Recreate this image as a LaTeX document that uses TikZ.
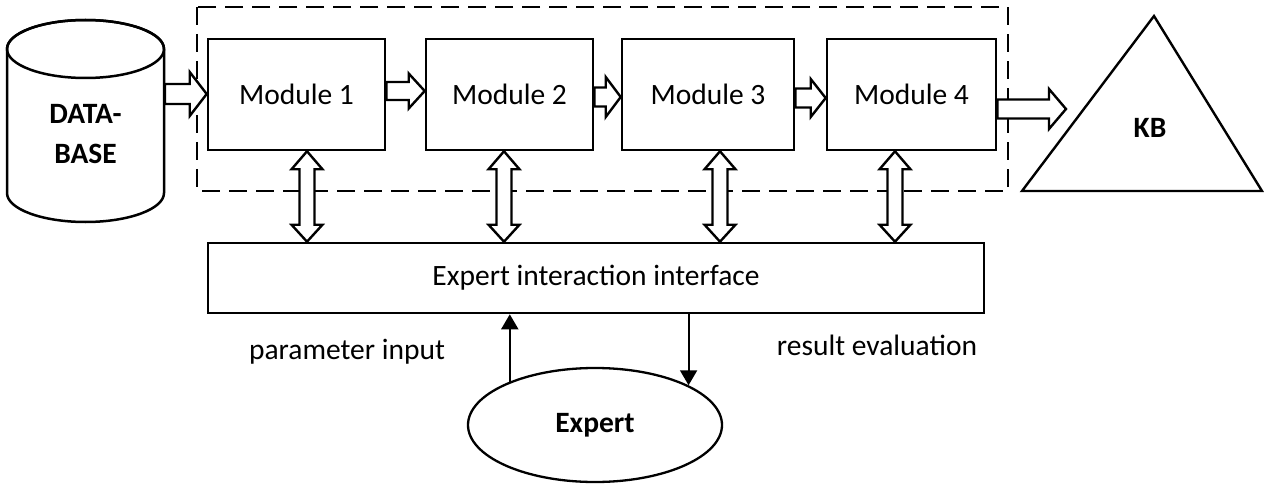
\documentclass[tikz,border=0pt]{standalone}
\usepackage{fontspec}
\setmainfont{Carlito}
\usetikzlibrary{calc,arrows.meta,shapes.geometric}
% horizontal hollow block arrow: #1 y (px, downwards), #2 start, #3 end, #4 shaft half, #5 head half, #6 head length
\newcommand{\hblk}[6]{%
  \draw[blk] let \p1=(#2), \p2=(#3) in
    ({\x1},{-#1pt+#4pt}) -- ({\x2-#6pt},{-#1pt+#4pt}) -- ({\x2-#6pt},{-#1pt+#5pt}) --
    ({\x2},{-#1pt}) -- ({\x2-#6pt},{-#1pt-#5pt}) -- ({\x2-#6pt},{-#1pt-#4pt}) --
    ({\x1},{-#1pt-#4pt}) -- cycle;}
% vertical double hollow block arrow: #1 x (px), #2 top anchor, #3 bottom anchor
\newcommand{\vblk}[3]{%
  \draw[blk] let \p1=(#2), \p2=(#3) in
    ({#1pt},{\y1}) -- ({#1pt+15.5pt},{\y1-18pt}) -- ({#1pt+7.5pt},{\y1-18pt}) --
    ({#1pt+7.5pt},{\y2+17pt}) -- ({#1pt+15.5pt},{\y2+17pt}) -- ({#1pt},{\y2}) --
    ({#1pt-15.5pt},{\y2+17pt}) -- ({#1pt-7.5pt},{\y2+17pt}) -- ({#1pt-7.5pt},{\y1-18pt}) --
    ({#1pt-15.5pt},{\y1-18pt}) -- cycle;}
\begin{document}
\begin{tikzpicture}[x=1pt,y=-1pt,
  txt/.style={font=\fontsize{29.5}{40}\selectfont},
  btxt/.style={font=\fontsize{29.5}{40}\selectfont\bfseries},
  box/.style={draw, line width=2.6pt, minimum height=111pt, inner sep=0pt, fill=white, txt},
  blk/.style={draw, fill=white, line width=2.4pt, line join=miter},
  arr/.style={line width=2pt, -{Triangle[length=15pt,width=17pt]}},
  shp/.style={draw, line width=2.5pt, fill=white}]
\useasboundingbox (0,0) rectangle (1264,484);
% dashed frame
\draw[line width=2.5pt, dash pattern=on 18pt off 9pt] (197,7) rectangle (1008,191);
% database cylinder
\draw[shp] (7,49) -- (7,193) arc[start angle=180,end angle=360,x radius=78.5pt,y radius=29pt]
  -- (164,49) arc[start angle=0,end angle=180,x radius=78.5pt,y radius=29pt] -- cycle;
\draw[line width=2.5pt] (85.5,49) ellipse [x radius=78.5pt, y radius=29pt];
\node[btxt, align=center, inner sep=0pt] (db) at (85.5,134) {DATA-\\BASE};
\coordinate (dbout) at (165,94);
% knowledge base triangle
\draw[shp, line width=2.4pt] (1154,16) -- (1262,191) -- (1022,191) -- cycle;
\node[btxt] (kb) at (1150,128) {KB};
\coordinate (kbin) at (1066,109);
% modules
\node[box, minimum width=177pt] (m1) at (296.5,94.5) {Module 1};
\node[box, minimum width=167pt] (m2) at (509.5,94.5) {Module 2};
\node[box, minimum width=172pt] (m3) at (708,94.5) {Module 3};
\node[box, minimum width=169pt] (m4) at (911.5,94.5) {Module 4};
% interface
\node[box, minimum width=776pt, minimum height=70pt] (ifc) at (596,278) {Expert interaction interface};
% expert
\node[draw, ellipse, line width=2.3pt, minimum width=254pt, minimum height=114pt, inner sep=0pt, btxt] (ex) at (595,425) {Expert};
% horizontal block arrows
\hblk{94}{dbout}{m1.west}{10}{22}{17}
\hblk{91}{m1.east}{m2.west}{9}{17.5}{16}
\hblk{97}{m2.east}{m3.west}{9.5}{20}{15}
\hblk{98}{m3.east}{m4.west}{9.5}{19}{15}
\hblk{109}{m4.east}{kbin}{9.5}{20}{17}
% vertical double block arrows
\vblk{307}{m1.south}{ifc.north}
\vblk{504}{m2.south}{ifc.north}
\vblk{720}{m3.south}{ifc.north}
\vblk{895}{m4.south}{ifc.north}
% expert arrows
\draw[arr] (ex.153.5) -- (ex.153.5 |- ifc.south);
\draw[arr] (ex.23.6 |- ifc.south) -- (ex.23.6);
% labels
\node[txt] (pin) at (347,352) {parameter input};
\node[txt] (rev) at (877,345) {result evaluation};
\end{tikzpicture}
\end{document}
